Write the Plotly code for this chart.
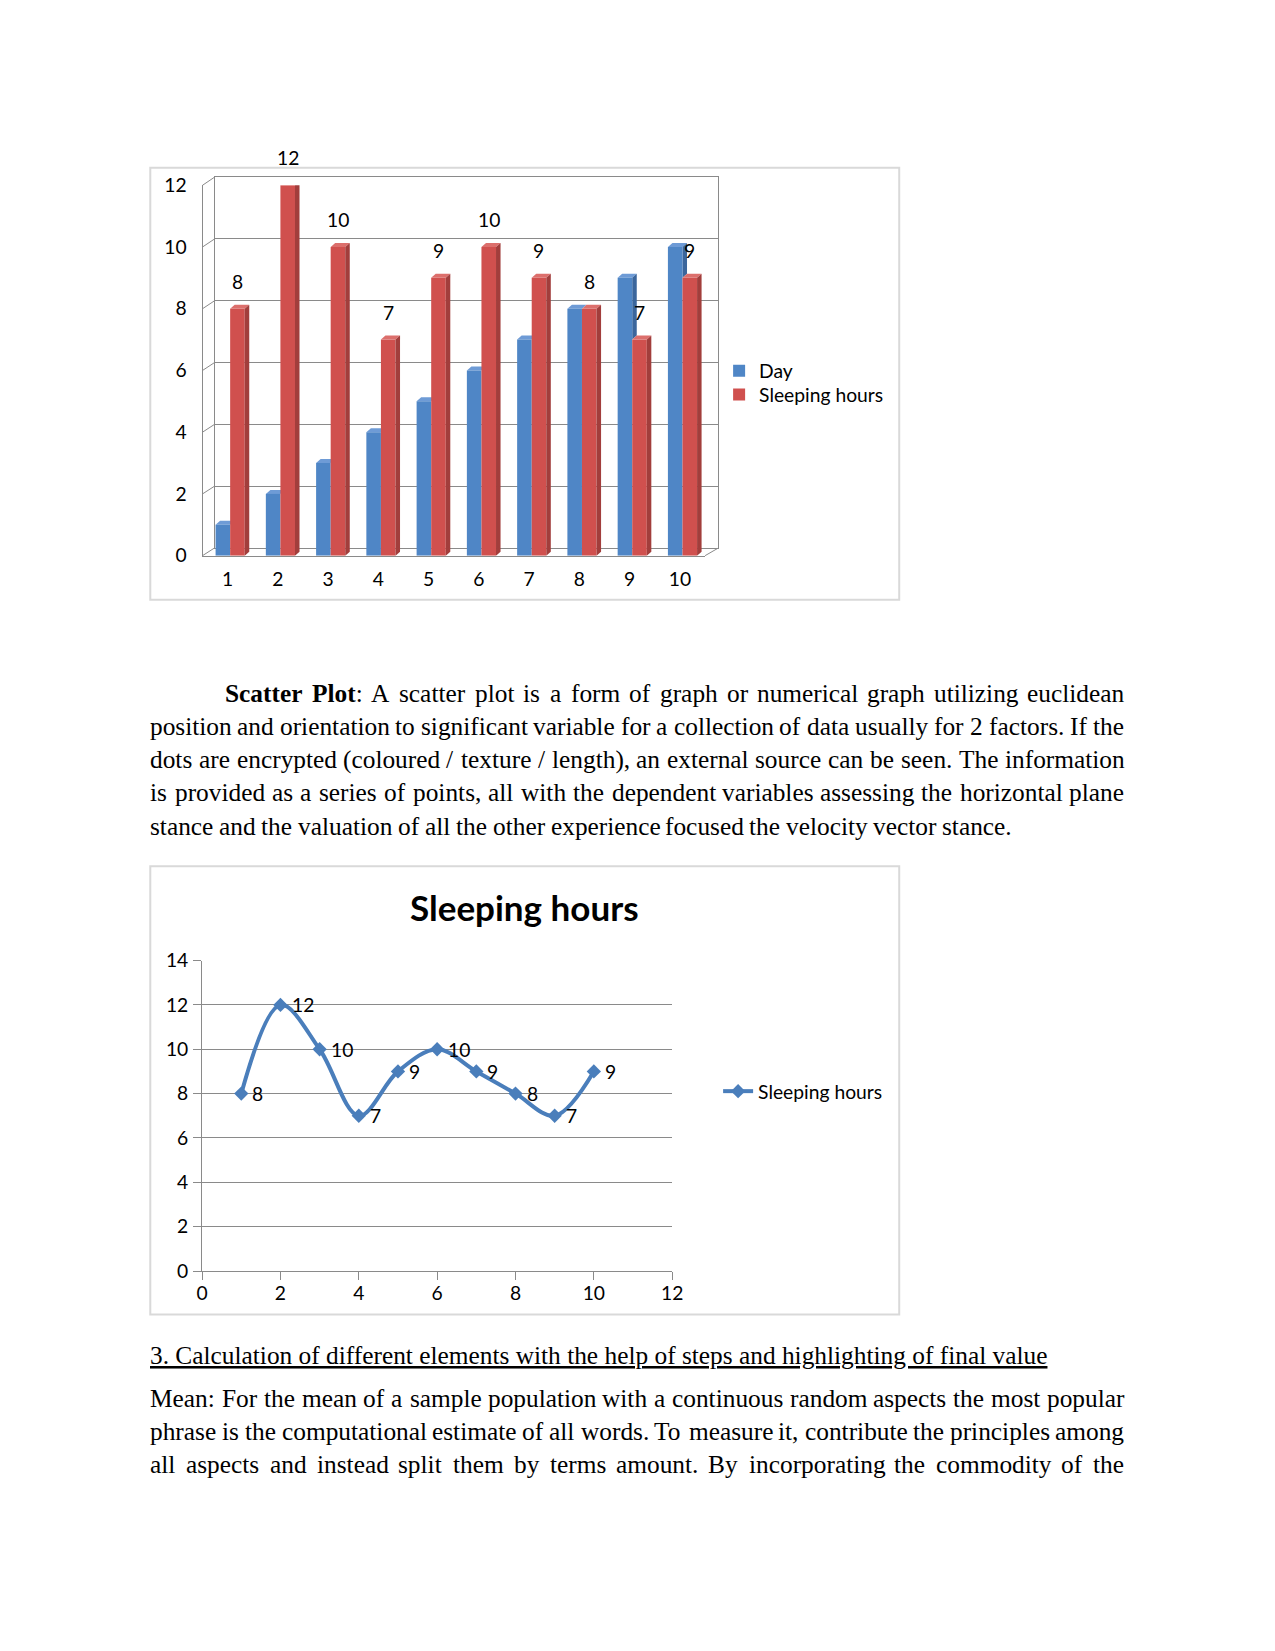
import plotly.graph_objects as go

FIG_W, FIG_H = 1275, 1651

# Measured mapping from figure pixels to the captured page (page = S*fig + O);
# all layout positions below are given in page pixels and converted back.
SX, SY = 0.9861, 0.9856
OX, OY = 6.3, 11.6
K = 1 / 0.9858   # size factor for fonts / pixel offsets

# ---------------- data ----------------
days = [1, 2, 3, 4, 5, 6, 7, 8, 9, 10]
day_values = [1, 2, 3, 4, 5, 6, 7, 8, 9, 10]
sleep_hours = [8, 12, 10, 7, 9, 10, 9, 8, 7, 9]
bar_series_names = ["Day", "Sleeping hours"]
bar_y_ticks = [0, 2, 4, 6, 8, 10, 12]
line_x_ticks = [0, 2, 4, 6, 8, 10, 12]
line_y_ticks = [0, 2, 4, 6, 8, 10, 12, 14]
line_title = "Sleeping hours"

para1_lines = [
    "Scatter Plot: A scatter plot is a form of graph or numerical graph utilizing euclidean",
    "position and orientation to significant variable for a collection of data usually for 2 factors. If the",
    "dots are encrypted (coloured / texture / length), an external source can be seen. The information",
    "is provided as a series of points, all with the dependent variables assessing the horizontal plane",
    "stance and the valuation of all the other experience focused the velocity vector stance.",
]
heading = "3. Calculation of different elements with the help of steps and highlighting of final value"
para2_lines = [
    "Mean: For the mean of a sample population with a continuous random aspects the most popular",
    "phrase is the computational estimate of all words. To measure it, contribute the principles among",
    "all aspects and instead split them by terms amount. By incorporating the commodity of the",
]
bold_words = {"Scatter", "Plot"}

# ---------------- helpers ----------------
def xpx(p):
    return (p - OX) / SX

def ypx(p):
    return (p - OY) / SY

def fx(p):
    return xpx(p) / FIG_W

def fy(p):
    return 1 - ypx(p) / FIG_H

GRID = "#8a8a8a"
BORDER = "#d9d9d9"
CHART_FONT = "Lato"
BODY_FONT = "Liberation Serif"
BODY_SIZE = 25 * K
CH_SIZE = 19 * K

TW = {' ': 250, '!': 333, '(': 333, ')': 333, ',': 250, '-': 333, '.': 250, '/': 278,
      ':': 278, ';': 278,
      'A': 722, 'B': 667, 'C': 667, 'D': 722, 'E': 611, 'F': 556, 'G': 722, 'H': 722,
      'I': 333, 'J': 389, 'K': 722, 'L': 611, 'M': 889, 'N': 722, 'O': 722, 'P': 556,
      'Q': 722, 'R': 667, 'S': 556, 'T': 611, 'U': 722, 'V': 722, 'W': 944, 'X': 722,
      'Y': 722, 'Z': 611,
      'a': 444, 'b': 500, 'c': 444, 'd': 500, 'e': 444, 'f': 333, 'g': 500, 'h': 500,
      'i': 278, 'j': 278, 'k': 500, 'l': 278, 'm': 778, 'n': 500, 'o': 500, 'p': 500,
      'q': 500, 'r': 333, 's': 389, 't': 278, 'u': 500, 'v': 500, 'w': 722, 'x': 500,
      'y': 500, 'z': 444}
for d in "0123456789":
    TW[d] = 500
TB = {'S': 556, 'c': 444, 'a': 500, 't': 333, 'e': 444, 'r': 444, 'P': 611, 'l': 278, 'o': 500}


def word_info(word, allow_bold):
    core = word.rstrip(':')
    tail = word[len(core):]
    if allow_bold and core in bold_words:
        w = sum(TB.get(c, 500) for c in core) + sum(TW.get(c, 500) for c in tail)
        return "<b>" + core + "</b>" + tail, w * BODY_SIZE / 1000.0
    return word, sum(TW.get(c, 500) for c in word) * BODY_SIZE / 1000.0


annotations = []


def place_line(text, x_left, x_right, y, justify=True, allow_bold=False):
    words = text.split(" ")
    infos = [word_info(w, allow_bold) for w in words]
    total = sum(i[1] for i in infos)
    xl, xr = xpx(x_left), xpx(x_right)
    if justify and len(words) > 1:
        gap = (xr - xl - total) / (len(words) - 1)
    else:
        gap = TW[' '] * BODY_SIZE / 1000.0
    x = xl
    for markup, wd in infos:
        annotations.append(dict(
            x=x / FIG_W, y=fy(y), xref="paper", yref="paper", text=markup,
            xanchor="left", yanchor="middle", showarrow=False, borderpad=0, borderwidth=0,
            font=dict(family=BODY_FONT, size=BODY_SIZE, color="black")))
        x += wd + gap


LEFT, RIGHT, INDENT = 150.5, 1123.0, 225.5
p1_y = [692.3, 725.4, 758.6, 791.7, 824.9]
for i, line in enumerate(para1_lines):
    xl = INDENT if i == 0 else LEFT
    place_line(line, xl, RIGHT, p1_y[i], justify=(i < len(para1_lines) - 1), allow_bold=(i == 0))

annotations.append(dict(
    x=fx(LEFT), y=fy(1354.0), xref="paper", yref="paper", text="<u>" + heading + "</u>",
    xanchor="left", yanchor="middle", showarrow=False, borderpad=0, borderwidth=0,
    font=dict(family=BODY_FONT, size=BODY_SIZE, color="black")))

p2_y = [1396.8, 1430.0, 1463.0]
for i, line in enumerate(para2_lines):
    place_line(line, LEFT, RIGHT, p2_y[i], justify=True)

# ---------------- chart 1 geometry (page px) ----------------
FX0, FX1, FY0, FY1 = 202.7, 705.0, 555.0, 184.8      # front plane
BX0, BX1, BY0, BY1 = 214.7, 718.3, 547.3, 176.7      # back wall

fig = go.Figure()

# invisible trace that registers the back-wall subplot
fig.add_trace(go.Scatter(x=[], y=[], xaxis="x", yaxis="y", showlegend=False, hoverinfo="skip"))

BLUE, BLUE_SIDE, BLUE_TOP = "#4F86C6", "#3B669C", "#6E9BD6"
RED, RED_SIDE, RED_TOP = "#D0504E", "#A23E3C", "#DC6F6C"
BAR_W = 0.29
OFFS = [-0.24, 0.05]
DX, DY = 0.09, 0.13

fig.add_trace(go.Bar(x=days, y=day_values, width=BAR_W, offset=OFFS[0], name=bar_series_names[0],
                     marker=dict(color=BLUE, line=dict(width=0)), xaxis="x2", yaxis="y2",
                     legend="legend"))
fig.add_trace(go.Bar(x=days, y=sleep_hours, width=BAR_W, offset=OFFS[1], name=bar_series_names[1],
                     marker=dict(color=RED, line=dict(width=0)), xaxis="x2", yaxis="y2",
                     legend="legend3"))

label_font = dict(family=CHART_FONT, size=CH_SIZE, color="black")
for d, v in zip(days, sleep_hours):
    annotations.append(dict(x=d + OFFS[1] + BAR_W / 2, y=v, xref="x2", yref="y2", text=str(v),
                            showarrow=False, xanchor="center", yanchor="middle", yshift=27.2 * K,
                            font=label_font))

shapes = []


def faces(values, off, side_col, top_col, layer, clip_vals=None):
    for i, (d, v) in enumerate(zip(days, values)):
        xl = d + off
        xr = xl + BAR_W
        shapes.append(dict(type="path", xref="x2", yref="y2", layer=layer,
                           path=f"M{xl},{v} L{xl+DX},{v+DY} L{xr+DX},{v+DY} L{xr},{v} Z",
                           fillcolor=top_col, line=dict(width=0)))
        lo = 0
        if clip_vals is not None:
            lo = clip_vals[i]
            if lo >= v:
                continue
        shapes.append(dict(type="path", xref="x2", yref="y2", layer=layer,
                           path=f"M{xr},{lo} L{xr},{v} L{xr+DX},{v+DY} L{xr+DX},{lo+DY} Z",
                           fillcolor=side_col, line=dict(width=0)))


faces(day_values, OFFS[0], BLUE_SIDE, BLUE_TOP, "below", clip_vals=sleep_hours)
faces(sleep_hours, OFFS[1], RED_SIDE, RED_TOP, "above")

# left wall slants and floor right slant
for v in bar_y_ticks:
    yf = FY0 + (FY1 - FY0) * v / 12.0
    yb = BY0 + (BY1 - BY0) * v / 12.0
    shapes.append(dict(type="line", xref="paper", yref="paper", layer="below",
                       x0=fx(FX0), y0=fy(yf), x1=fx(BX0), y1=fy(yb),
                       line=dict(color=GRID, width=1)))
shapes.append(dict(type="line", xref="paper", yref="paper", layer="below",
                   x0=fx(FX1), y0=fy(FY0), x1=fx(BX1), y1=fy(BY0),
                   line=dict(color=GRID, width=1)))

# chart borders
for (x0, y0, x1, y1) in [(150.5, 167.4, 899.0, 599.0), (150.5, 865.4, 899.0, 1313.5)]:
    shapes.append(dict(type="rect", xref="paper", yref="paper", layer="below",
                       x0=fx(x0), x1=fx(x1), y0=fy(y0), y1=fy(y1),
                       line=dict(color=BORDER, width=2), fillcolor="rgba(0,0,0,0)"))

# ---------------- chart 2 ----------------
fig.add_trace(go.Scatter(x=days, y=sleep_hours, mode="lines+markers", name="Sleeping hours",
                         line=dict(color="#4A7EBB", width=4, shape="spline", smoothing=1.0),
                         marker=dict(symbol="diamond", size=11, color="#4A7EBB"),
                         cliponaxis=False, xaxis="x3", yaxis="y3", legend="legend2"))
for d, v in zip(days, sleep_hours):
    annotations.append(dict(x=d, y=v, xref="x3", yref="y3", text=str(v), showarrow=False,
                            xanchor="left", yanchor="middle", xshift=9 * K, font=label_font))

tickfont = dict(family=CHART_FONT, size=CH_SIZE, color="black")
legend_common = dict(xanchor="left", yanchor="middle", bgcolor="rgba(0,0,0,0)",
                     font=dict(family=CHART_FONT, size=CH_SIZE, color="black"), borderwidth=0)

fig.update_layout(
    width=FIG_W, height=FIG_H, autosize=False,
    margin=dict(l=0, r=0, t=0, b=0, pad=0),
    paper_bgcolor="white", plot_bgcolor="rgba(0,0,0,0)",
    barmode="overlay",
    showlegend=True,
    # back wall of 3D chart
    xaxis=dict(domain=[fx(BX0), fx(BX1)], range=[0.5, 10.5], showgrid=False, zeroline=False,
               showticklabels=False, ticks="", showline=True, mirror=True, linecolor=GRID,
               linewidth=1, anchor="y", fixedrange=True),
    yaxis=dict(domain=[fy(BY0), fy(BY1)], range=[0, 12], tickvals=bar_y_ticks, showgrid=True,
               gridcolor=GRID, gridwidth=1, zeroline=False, showticklabels=False, ticks="",
               showline=True, mirror=True, linecolor=GRID, linewidth=1, anchor="x", fixedrange=True),
    # front plane of 3D chart
    xaxis2=dict(domain=[fx(FX0), fx(FX1)], range=[0.5, 10.5], tickvals=days,
                ticktext=[str(d) for d in days], showgrid=False, zeroline=False, ticks="",
                showline=True, linecolor=GRID, linewidth=1, anchor="y2", tickfont=tickfont,
                ticklabelstandoff=6, fixedrange=True),
    yaxis2=dict(domain=[fy(FY0), fy(FY1)], range=[0, 12], tickvals=bar_y_ticks, showgrid=False,
                zeroline=False, ticks="", showline=True, linecolor=GRID, linewidth=1, anchor="x2",
                tickfont=tickfont, ticklabelstandoff=11, fixedrange=True),
    # line chart
    xaxis3=dict(domain=[fx(202.3), fx(672.1)], range=[0, 12], tickvals=line_x_ticks, showgrid=False,
                zeroline=False, ticks="outside", ticklen=8, tickcolor=GRID, showline=True,
                linecolor=GRID, linewidth=1, anchor="y3", tickfont=tickfont, ticklabelstandoff=-3,
                fixedrange=True),
    yaxis3=dict(domain=[fy(1270.0), fy(959.7)], range=[0, 14], tickvals=line_y_ticks, showgrid=True,
                gridcolor=GRID, gridwidth=1, zeroline=False, ticks="outside", ticklen=8,
                tickcolor=GRID, showline=True, linecolor=GRID, linewidth=1, anchor="x3",
                tickfont=tickfont, ticklabelstandoff=1, fixedrange=True),
    title=dict(text="<b>" + line_title + "</b>", x=fx(524.3), y=fy(907.5), xref="paper", yref="paper",
               xanchor="center", yanchor="middle",
               font=dict(family=CHART_FONT, size=34.5 * K, color="black")),
    legend=dict(x=fx(719), y=fy(370.7), **legend_common),
    legend3=dict(x=fx(719), y=fy(394.5), **legend_common),
    legend2=dict(x=fx(718), y=fy(1090.7), **legend_common),
    shapes=shapes,
    annotations=annotations,
)

fig.write_html("out.html")
